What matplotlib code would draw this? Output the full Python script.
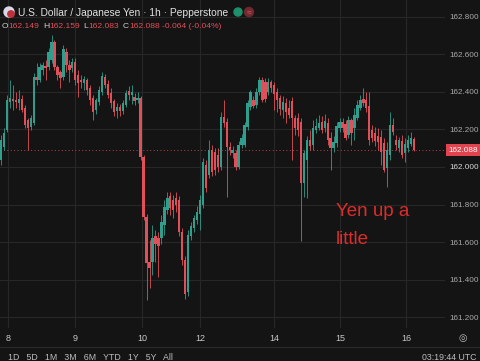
import numpy as np
import matplotlib
matplotlib.use("Agg")
import matplotlib.pyplot as plt
from matplotlib.patches import Circle
from matplotlib.transforms import blended_transform_factory

# USD/JPY 1h Kerzen (von links nach rechts)
opens = [162.037, 162.106, 162.197, 162.345, 162.361, 162.356, 162.340, 162.361, 162.314, 162.250,
         162.212, 162.234, 162.478, 162.462, 162.516, 162.537, 162.532, 162.569, 162.665, 162.532,
         162.505, 162.478, 162.611, 162.542, 162.526, 162.558, 162.489, 162.462, 162.447, 162.462,
         162.420, 162.367, 162.303, 162.345, 162.399, 162.478, 162.441, 162.393, 162.351, 162.298,
         162.319, 162.298, 162.330, 162.404, 162.383, 162.372, 162.356, 162.367, 162.053, 161.734,
         161.494, 161.494, 161.633, 161.622, 161.622, 161.691, 161.771, 161.845, 161.824, 161.835,
         161.824, 161.654, 161.505, 161.335, 161.633, 161.675, 161.718, 161.750, 161.798, 162.010,
         161.957, 162.090, 162.080, 162.064, 162.000, 162.266, 162.239, 162.106, 162.074, 162.074,
         162.000, 162.117, 162.117, 162.212, 162.319, 162.356, 162.330, 162.399, 162.462, 162.452,
         162.399, 162.452, 162.436, 162.399, 162.367, 162.303, 162.340, 162.314, 162.351, 162.260,
         162.260, 162.239, 161.915, 162.037, 162.143, 162.117, 162.197, 162.207, 162.239, 162.207,
         162.234, 162.154, 162.101, 162.127, 162.207, 162.239, 162.228, 162.170, 162.250, 162.207,
         162.260, 162.314, 162.361, 162.356, 162.324, 162.197, 162.181, 162.165, 162.159, 162.127,
         161.994, 162.064, 162.223, 162.143, 162.101, 162.138, 162.074, 162.101, 162.122, 162.149]
closes = [162.143, 162.181, 162.356, 162.367, 162.351, 162.345, 162.361, 162.303, 162.223, 162.207,
          162.260, 162.478, 162.462, 162.532, 162.542, 162.526, 162.611, 162.665, 162.532, 162.489,
          162.473, 162.627, 162.542, 162.516, 162.558, 162.462, 162.447, 162.452, 162.468, 162.409,
          162.356, 162.292, 162.356, 162.409, 162.484, 162.436, 162.383, 162.340, 162.292, 162.319,
          162.298, 162.340, 162.393, 162.383, 162.399, 162.351, 162.367, 162.053, 161.734, 161.489,
          161.463, 161.622, 161.590, 161.580, 161.707, 161.787, 161.835, 161.782, 161.771, 161.798,
          161.654, 161.505, 161.324, 161.638, 161.686, 161.728, 161.760, 161.824, 162.026, 161.888,
          162.090, 161.973, 161.984, 162.000, 162.266, 162.234, 162.106, 162.090, 162.090, 162.000,
          162.117, 162.154, 162.223, 162.340, 162.399, 162.324, 162.399, 162.462, 162.356, 162.361,
          162.452, 162.420, 162.388, 162.356, 162.308, 162.345, 162.292, 162.276, 162.260, 162.207,
          162.197, 161.915, 162.074, 162.143, 162.111, 162.207, 162.218, 162.234, 162.197, 162.244,
          162.143, 162.101, 162.133, 162.218, 162.239, 162.207, 162.154, 162.250, 162.181, 162.276,
          162.330, 162.356, 162.340, 162.314, 162.143, 162.154, 162.138, 162.133, 162.080, 161.984,
          162.090, 162.223, 162.186, 162.117, 162.143, 162.064, 162.122, 162.143, 162.154, 162.088]
highs = [162.170, 162.207, 162.383, 162.462, 162.436, 162.399, 162.409, 162.383, 162.330, 162.260,
         162.276, 162.500, 162.553, 162.553, 162.558, 162.569, 162.633, 162.702, 162.675, 162.542,
         162.516, 162.649, 162.633, 162.569, 162.579, 162.579, 162.516, 162.489, 162.484, 162.473,
         162.436, 162.383, 162.367, 162.431, 162.505, 162.494, 162.462, 162.420, 162.361, 162.340,
         162.335, 162.356, 162.409, 162.431, 162.436, 162.393, 162.399, 162.377, 162.064, 161.750,
         161.611, 161.691, 161.665, 161.654, 161.744, 161.824, 161.867, 161.867, 161.851, 161.867,
         161.845, 161.675, 161.526, 161.665, 161.707, 161.744, 161.792, 161.851, 162.048, 162.037,
         162.143, 162.117, 162.101, 162.101, 162.292, 162.356, 162.260, 162.133, 162.111, 162.090,
         162.138, 162.175, 162.239, 162.356, 162.409, 162.377, 162.420, 162.478, 162.478, 162.473,
         162.473, 162.462, 162.452, 162.420, 162.383, 162.377, 162.367, 162.356, 162.372, 162.276,
         162.287, 162.260, 162.090, 162.165, 162.197, 162.250, 162.260, 162.276, 162.271, 162.282,
         162.260, 162.186, 162.165, 162.239, 162.260, 162.260, 162.250, 162.271, 162.260, 162.314,
         162.356, 162.383, 162.420, 162.399, 162.399, 162.223, 162.212, 162.207, 162.197, 162.154,
         162.133, 162.292, 162.260, 162.170, 162.159, 162.170, 162.154, 162.170, 162.186, 162.159]
lows = [162.010, 162.090, 162.186, 162.314, 162.303, 162.314, 162.303, 162.292, 162.207, 162.090,
        162.197, 162.223, 162.436, 162.452, 162.489, 162.462, 162.516, 162.553, 162.516, 162.462,
        162.420, 162.462, 162.505, 162.452, 162.505, 162.436, 162.372, 162.420, 162.409, 162.383,
        162.330, 162.250, 162.282, 162.330, 162.383, 162.420, 162.367, 162.314, 162.271, 162.260,
        162.271, 162.282, 162.319, 162.356, 162.335, 162.330, 162.340, 162.037, 161.718, 161.292,
        161.356, 161.425, 161.494, 161.415, 161.590, 161.638, 161.750, 161.744, 161.728, 161.760,
        161.633, 161.478, 161.298, 161.314, 161.611, 161.654, 161.697, 161.665, 161.782, 161.867,
        161.941, 161.952, 161.957, 161.973, 161.984, 162.212, 161.840, 162.064, 162.048, 161.984,
        161.989, 162.101, 162.106, 162.197, 162.303, 162.314, 162.314, 162.383, 162.345, 162.345,
        162.383, 162.399, 162.303, 162.292, 162.276, 162.260, 162.234, 162.260, 162.037, 162.170,
        162.165, 161.606, 161.840, 161.835, 162.090, 162.090, 162.181, 162.197, 162.181, 162.186,
        162.117, 161.984, 162.080, 162.106, 162.186, 162.186, 162.143, 162.154, 162.117, 162.143,
        162.250, 162.303, 162.324, 162.292, 162.117, 162.133, 162.111, 162.090, 162.010, 161.973,
        161.893, 162.037, 162.170, 162.090, 162.080, 162.048, 162.026, 162.080, 162.111, 162.083]

day_labels = ["8", "9", "10", "12", "14", "15", "16"]
day_pos = [2.4, 24.9, 47.5, 67.0, 91.9, 114.1, 136.4]
price_ticks = [161.2, 161.4, 161.6, 161.8, 162.0, 162.2, 162.4, 162.6, 162.8]

bg = "#141414"
grid = "#272727"
up = "#2f9e8c"
down = "#e0505a"
txt = "#a9a9a9"

plt.rcParams["font.family"] = ["Liberation Sans", "DejaVu Sans"]

fig = plt.figure(figsize=(4.8, 3.61), dpi=100, facecolor=bg)
ax = fig.add_axes([0, 33 / 361, 445 / 480, 328 / 361], facecolor=bg)

o = np.array(opens)
c = np.array(closes)
h = np.array(highs)
l = np.array(lows)
x = np.arange(len(o))
cols = np.where(c >= o, up, down)

ax.vlines(x, l, h, color=cols, lw=0.6, zorder=3)
ax.bar(x, np.maximum(np.abs(c - o), 0.005), bottom=np.minimum(o, c), width=0.8,
       color=cols, edgecolor="none", zorder=4)

ax.set_xlim(-0.35, 149.5)
ax.set_ylim(161.143, 162.888)

for p in price_ticks:
    ax.axhline(p, color=grid, lw=0.8, zorder=1)
for d in day_pos:
    ax.axvline(d, color=grid, lw=0.8, zorder=1)

# letzter Kurs
ax.axhline(c[-1], color=down, lw=0.7, ls=(0, (1, 2.5)), alpha=0.8, zorder=2)
tr = blended_transform_factory(ax.transAxes, ax.transData)
ax.text(1.008, c[-1], f"{c[-1]:.3f}", transform=tr, ha="left", va="center", color="white",
        fontsize=5.9, clip_on=False, zorder=6,
        bbox=dict(boxstyle="square,pad=0.3", fc="#e2444f", ec="none"))

ax.yaxis.tick_right()
ax.set_yticks(price_ticks)
ax.set_yticklabels([f"{p:.3f}" for p in price_ticks])
ax.set_xticks(day_pos)
ax.set_xticklabels(day_labels)
ax.tick_params(axis="y", length=0, pad=3.5, labelsize=5.9, labelcolor=txt)
ax.tick_params(axis="x", length=0, pad=4, labelsize=6.5, labelcolor="#c8c8c8")
ax.get_yticklabels()[4].set_color("#d8d8d8")
for s in ax.spines.values():
    s.set_visible(False)

ax.text(0.755, (328 - 212) / 328, "Yen up a", transform=ax.transAxes, color="#dd2c2c",
        fontsize=13.5, ha="left", va="center")
ax.text(0.755, (328 - 240) / 328, "little", transform=ax.transAxes, color="#dd2c2c",
        fontsize=13.5, ha="left", va="center")

# Kopfzeile und Leisten
ov = fig.add_axes([0, 0, 1, 1], facecolor="none")
ov.set_xlim(0, 480)
ov.set_ylim(361, 0)
ov.axis("off")

ov.add_patch(Circle((9, 12), 5, color="#d8d8e8"))
ov.add_patch(Circle((11, 14), 3.2, color="#c0303a"))
ov.text(18, 13, "U.S. Dollar / Japanese Yen · 1h · Pepperstone", color="#e2e2e2",
        fontsize=7.4, va="center", ha="left")
ov.add_patch(Circle((238, 12), 4, color="#1f8f6c"))
ov.add_patch(Circle((249, 12), 4.5, color="#6e2a30"))
ov.text(249, 12.5, "≈", color="#f05060", fontsize=6, ha="center", va="center")

parts = [(1.5, "O", "#d0d0d0"), (8, "162.149", down), (43, "H", "#d0d0d0"), (49.5, "162.159", down),
         (83, "L", "#d0d0d0"), (88, "162.083", down), (122.5, "C", "#d0d0d0"), (129, "162.088", down),
         (162, "-0.064 (-0.04%)", down)]
for px, s, col in parts:
    ov.text(px, 26, s, color=col, fontsize=6.1, va="center", ha="left")

ov.plot([0, 480], [347, 347], color="#2a2a2a", lw=0.8)
ov.text(463, 338, "◎", color="#bdbdbd", fontsize=7, ha="center", va="center",
        family="DejaVu Sans")
ov.text(8, 357, "1D   5D   1M   3M   6M   YTD   1Y   5Y   All", color="#bdbdbd",
        fontsize=6.3, va="center", ha="left")
ov.text(476, 357, "03:19:44 UTC", color="#bdbdbd", fontsize=6.3, va="center", ha="right")

fig.savefig("out.png", dpi=100, facecolor=bg)
